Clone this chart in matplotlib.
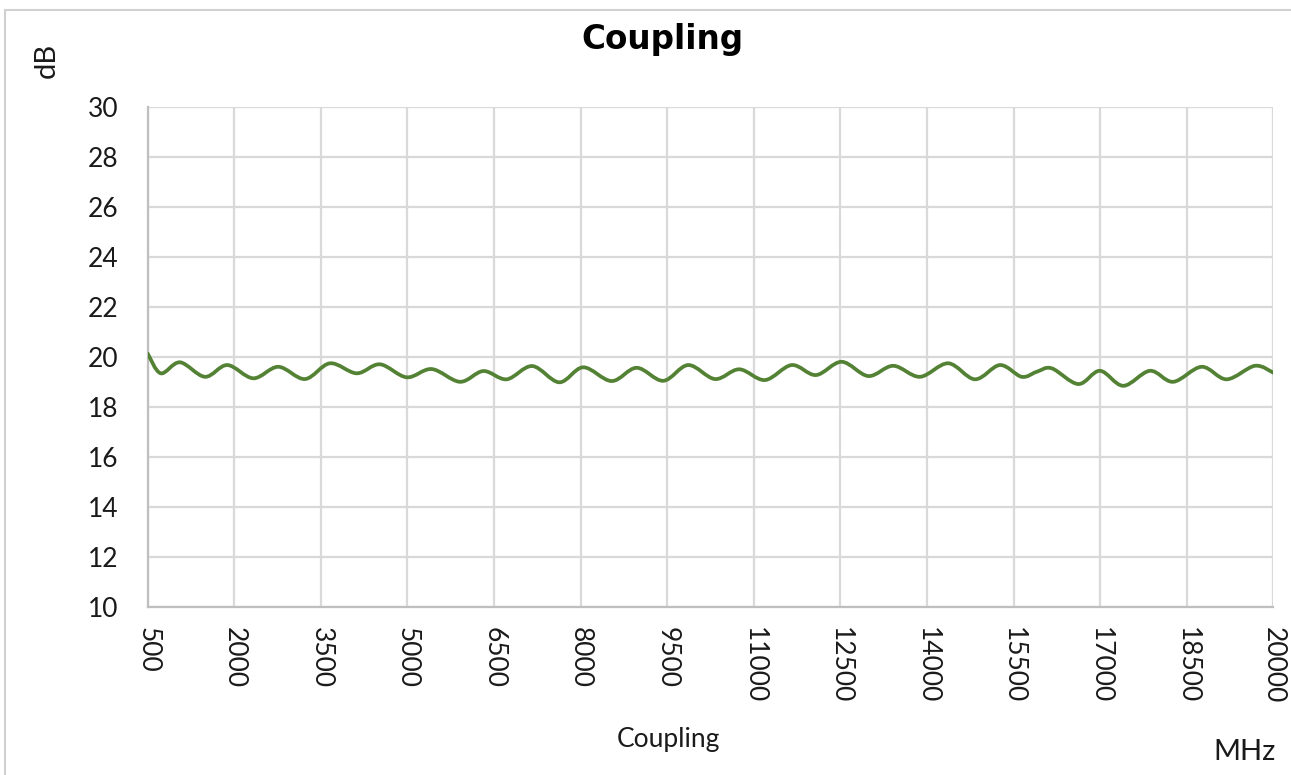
import matplotlib
matplotlib.use("Agg")
import matplotlib.pyplot as plt
from matplotlib.path import Path
from matplotlib.patches import PathPatch, Rectangle
import numpy as np

# ---- data ----
freq_mhz = [500, 725, 1059, 1492, 1879, 2329, 2762, 3224, 3657, 4120, 4523, 4986,
            5419, 5909, 6313, 6718, 7161, 7629, 8044, 8536, 8969, 9430, 9863, 10326,
            10746, 11192, 11654, 12075, 12520, 12981, 13414, 13876, 14367, 14829,
            15262, 15638, 15898, 16157, 16618, 16994, 17398, 17860, 18263, 18755,
            19188, 19678, 20000]
coupling_db = [20.15, 19.36, 19.80, 19.22, 19.69, 19.16, 19.62, 19.13, 19.76, 19.36,
               19.72, 19.20, 19.53, 19.02, 19.45, 19.12, 19.65, 19.00, 19.60, 19.05,
               19.58, 19.06, 19.69, 19.13, 19.52, 19.09, 19.69, 19.29, 19.82, 19.25,
               19.66, 19.22, 19.76, 19.12, 19.69, 19.22, 19.42, 19.56, 18.93, 19.46,
               18.86, 19.46, 19.02, 19.62, 19.12, 19.66, 19.38]
x_ticks = list(range(500, 20001, 1500))
y_ticks = list(range(10, 31, 2))
title = "Coupling"
series_name = "Coupling"

W, H = 1291, 775
fig = plt.figure(figsize=(W / 100, H / 100), dpi=100)
fig.patch.set_facecolor("white")

# outer chart border (right/bottom edges fall outside the image)
fig.add_artist(Rectangle((5 / W, -0.05), 1.0, 1.05 - 10 / H, transform=fig.transFigure,
                         fill=False, edgecolor="#d0d0d0", lw=1.5))

x0, x1 = 147.7, 1273.5
y0, y1 = 107.3, 607.3
ax = fig.add_axes([x0 / W, 1 - y1 / H, (x1 - x0) / W, (y1 - y0) / H])
ax.set_xlim(500, 20000)
ax.set_ylim(10, 30)
ax.set_xticks(x_ticks)
ax.set_yticks(y_ticks)
ax.grid(True, color="#d9d9d9", lw=1.6)
ax.set_axisbelow(True)
for s in ["top", "right"]:
    ax.spines[s].set_visible(False)
for s in ["left", "bottom"]:
    ax.spines[s].set_color("#bfbfbf")
    ax.spines[s].set_linewidth(1.6)
ax.tick_params(length=0)
tick_font = dict(family="Lato", size=19, color="#1a1a1a")
ax.set_xticklabels([str(v) for v in x_ticks], rotation=-90, ha="center", va="top",
                   fontdict=tick_font)
ax.set_yticklabels([str(v) for v in y_ticks], fontdict=tick_font)
ax.tick_params(axis="y", pad=21)
ax.tick_params(axis="x", pad=14)

# smoothed line (Excel-style smoothing rendered as Bezier path in data coords)
P = np.column_stack([freq_mhz, coupling_db]).astype(float)
n = len(P)
verts = [P[0]]
codes = [Path.MOVETO]
for i in range(n - 1):
    p0 = P[i - 1] if i > 0 else P[i]
    p1 = P[i]
    p2 = P[i + 1]
    p3 = P[i + 2] if i + 2 < n else P[i + 1]
    c1 = p1 + (p2 - p0) / 6.0
    c2 = p2 - (p3 - p1) / 6.0
    verts += [c1, c2, p2]
    codes += [Path.CURVE4] * 3
ax.add_patch(PathPatch(Path(verts, codes), fill=False, edgecolor="#548235", lw=2.7,
                       capstyle="round", joinstyle="round", zorder=3))

fig.text(662 / W, 1 - 40 / H, title, ha="center", va="center", family="DejaVu Sans",
         weight="bold", size=23.5, color="black")
fig.text(47 / W, 1 - 60 / H, "dB", ha="center", va="center", rotation=90,
         family="Lato", size=21, color="#1a1a1a")
fig.text(668 / W, 1 - 740 / H, series_name, ha="center", va="center",
         family="Lato", size=19, color="#1a1a1a")
fig.text(1245 / W, 1 - 752 / H, "MHz", ha="center", va="center",
         family="Lato", size=21, color="#1a1a1a")

fig.savefig("out.png", dpi=100)
